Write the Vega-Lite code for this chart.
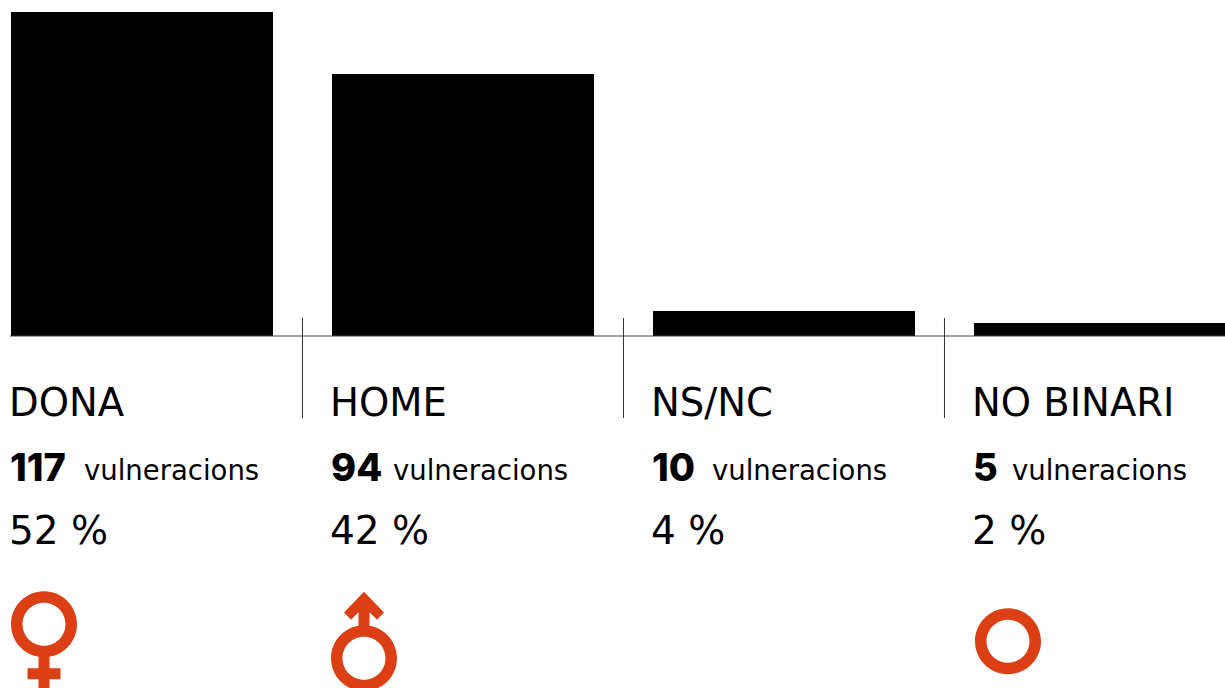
{"$schema":"https://vega.github.io/schema/vega-lite/v6.json","width":1225,"height":688,"padding":0,"autosize":{"type":"none"},"background":"white","config":{"view":{"stroke":null},"axis":{"disable":true}},
"data":{"values":[{"c":"DONA","n":117,"h":117,"pct":"52 %"},{"c":"HOME","n":94,"h":94.6,"pct":"42 %"},{"c":"NS/NC","n":10,"h":9,"pct":"4 %"},{"c":"NO BINARI","n":5,"h":4.7,"pct":"2 %"}]},
"layer":[
{"mark":{"type":"bar","color":"#000000","clip":false},"encoding":{"x":{"field":"c","type":"nominal","sort":null,"axis":null,"scale":{"type":"band","domain":["DONA","HOME","NS/NC","NO BINARI"],"range":[11,1236],"paddingInner":0.1838,"paddingOuter":0}},"y":{"field":"h","type":"quantitative","stack":null,"axis":null,"scale":{"domain":[-127.07,121.3],"range":[688,0],"zero":false,"nice":false}}}},
{"transform":[{"filter":"datum.c==='DONA'"}],"mark":{"type":"rule","color":"#444444","strokeWidth":1,"xOffset":-1},"encoding":{"x":{"field":"c","type":"nominal","bandPosition":0,"axis":null},"x2":{"value":1226},"y":{"datum":0,"type":"quantitative","axis":null}}},
{"transform":[{"filter":"datum.c!=='DONA'"}],"mark":{"type":"rule","color":"#333333","strokeWidth":1,"xOffset":-29.5},"encoding":{"x":{"field":"c","type":"nominal","bandPosition":0,"axis":null},"y":{"datum":6.5,"type":"quantitative","axis":null},"y2":{"datum":-29.6}}},
{"mark":{"type":"text","align":"left","baseline":"alphabetic","font":"DejaVu Sans","fontSize":38.5,"fontWeight":"normal","color":"#000000","dx":-2},"encoding":{"x":{"field":"c","type":"nominal","bandPosition":0,"axis":null},"y":{"datum":-28.9,"type":"quantitative","axis":null},"text":{"field":"c"}}},
{"mark":{"type":"text","align":"left","baseline":"alphabetic","font":"Inter","fontSize":38,"fontWeight":800,"color":"#000000","dx":-1},"encoding":{"x":{"field":"c","type":"nominal","bandPosition":0,"axis":null},"y":{"datum":-52.2,"type":"quantitative","axis":null},"text":{"field":"n"}}},
{"mark":{"type":"text","align":"left","baseline":"alphabetic","font":"DejaVu Sans","fontSize":27.5,"fontWeight":"normal","color":"#000000","dx":{"expr":"{'DONA':73,'HOME':61,'NS/NC':59,'NO BINARI':38}[datum.c]"}},"encoding":{"x":{"field":"c","type":"nominal","bandPosition":0,"axis":null},"y":{"datum":-52,"type":"quantitative","axis":null},"text":{"value":"vulneracions"}}},
{"mark":{"type":"text","align":"left","baseline":"alphabetic","font":"DejaVu Sans","fontSize":39,"fontWeight":"normal","color":"#000000","dx":-2},"encoding":{"x":{"field":"c","type":"nominal","bandPosition":0,"axis":null},"y":{"datum":-75,"type":"quantitative","axis":null},"text":{"field":"pct"}}},
{"transform":[{"filter":"datum.c!=='NS/NC'"}],"mark":{"type":"point","filled":true,"opacity":1,"color":"#dc3f14","strokeWidth":0,"xOffset":33},"encoding":{"x":{"field":"c","type":"nominal","bandPosition":0,"axis":null},"y":{"datum":-109.8,"type":"quantitative","axis":null},"size":{"value":4},"shape":{"field":"c","type":"nominal","legend":null,"scale":{"domain":["DONA","HOME","NO BINARI"],"range":[
"M-33,-16A33,33,0,1,1,33,-16A33,33,0,1,1,-33,-16ZM-21.5,-16A21.5,21.5,0,1,0,21.5,-16A21.5,21.5,0,1,0,-21.5,-16ZM-5.5,12L5.5,12L5.5,28L16.5,28L16.5,39L5.5,39L5.5,54L-5.5,54L-5.5,39L-16.5,39L-16.5,28L-5.5,28Z",
"M-34,18A33,33,0,1,1,32,18A33,33,0,1,1,-34,18ZM-22.5,18A21.5,21.5,0,1,0,20.5,18A21.5,21.5,0,1,0,-22.5,18ZM-1,-48.3L19,-27.7L12,-20.3L4.5,-28L4.5,-10L-6.5,-10L-6.5,-28L-14,-20.3L-21,-27.7Z",
"M-32,1A33,33,0,1,1,34,1A33,33,0,1,1,-32,1ZM-20.5,1A21.5,21.5,0,1,0,22.5,1A21.5,21.5,0,1,0,-20.5,1Z"]}}}}
]}
